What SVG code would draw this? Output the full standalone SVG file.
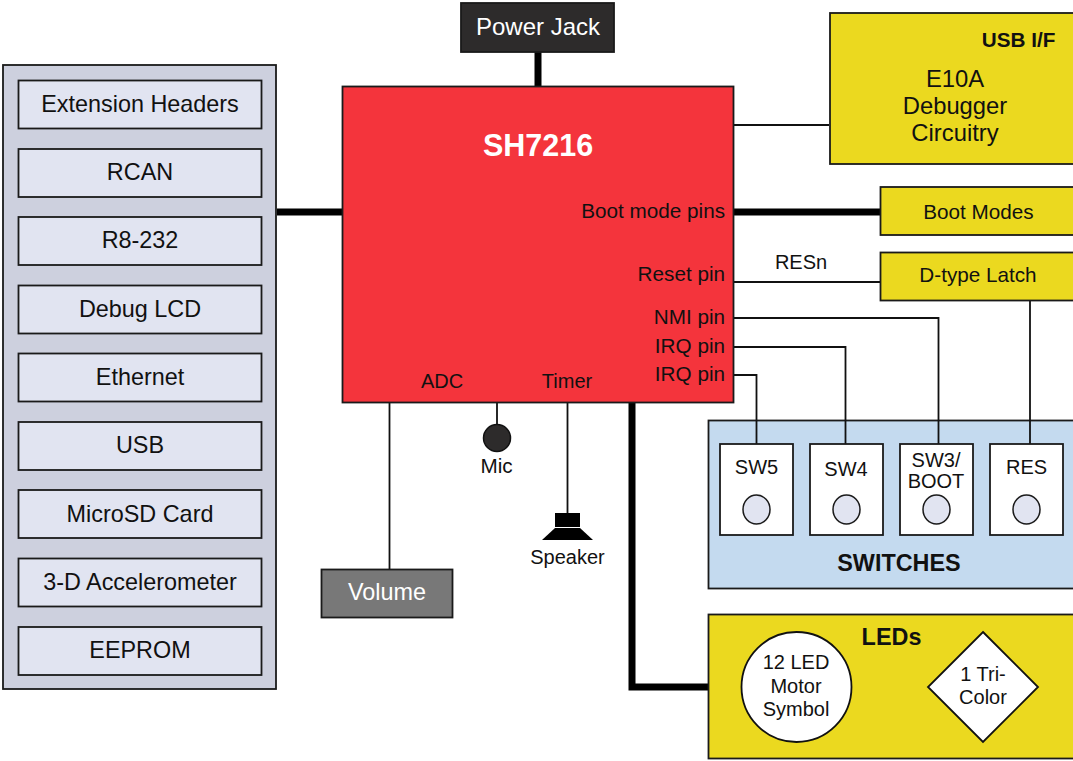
<svg xmlns="http://www.w3.org/2000/svg" width="1073" height="761" viewBox="0 0 1073 761">
<style>
text{font-family:"Liberation Sans",Arial,sans-serif;font-size:23.400px;text-anchor:middle;fill:#111}
.b{font-weight:bold}
.s{font-size:20.700px}
.n{font-size:20px}
.e{text-anchor:end}
.box{stroke:#1a1a1a;stroke-width:1.800}
.inner{fill:#e1e4f1}
.yel{fill:#ebd91f}
.sw{fill:#fff}
.btn{fill:#e1e4f1;stroke:#1a1a1a;stroke-width:1.500}
.thin{fill:none;stroke:#111;stroke-width:1.800}
.thick{fill:none;stroke:#000;stroke-width:7}
.w{fill:#fff}
</style>
<rect width="1073" height="761" fill="#fff"/>
<rect id="switches-panel" class="box" x="708.500" y="420.500" width="372" height="168" fill="#c4daef"/>
<g id="connectors">
<path class="thick" d="M538 52V86"/>
<path class="thick" d="M277 212H342"/>
<path class="thick" d="M734 212H880"/>
<path class="thick" d="M632 402V687H708"/>
<path class="thin" d="M734 125H829"/>
<path class="thin" d="M734 282H880"/>
<path class="thin" d="M734 318H938.500V444"/>
<path class="thin" d="M734 347H845.500V444"/>
<path class="thin" d="M734 375H756.500V444"/>
<path class="thin" d="M1030 300V444"/>
<path class="thin" d="M389.500 402V569"/>
<path class="thin" d="M497 402V425"/>
<path class="thin" d="M567.500 402V513"/>
</g>
<g id="peripherals">
<rect class="box" x="3" y="65" width="273" height="624" fill="#cdd0de"/>
</g>
<g id="extension-headers"><rect class="box inner" x="18.500" y="80.500" width="243" height="48"/><text x="140" y="112">Extension Headers</text></g>
<g id="rcan"><rect class="box inner" x="18.500" y="149" width="243" height="48"/><text x="140" y="180">RCAN</text></g>
<g id="r8-232"><rect class="box inner" x="18.500" y="217" width="243" height="48"/><text x="140" y="248">R8-232</text></g>
<g id="debug-lcd"><rect class="box inner" x="18.500" y="285.500" width="243" height="48"/><text x="140" y="317">Debug LCD</text></g>
<g id="ethernet"><rect class="box inner" x="18.500" y="353.500" width="243" height="48"/><text x="140" y="385">Ethernet</text></g>
<g id="usb"><rect class="box inner" x="18.500" y="422" width="243" height="48"/><text x="140" y="453">USB</text></g>
<g id="microsd"><rect class="box inner" x="18.500" y="490" width="243" height="48"/><text x="140" y="522">MicroSD Card</text></g>
<g id="accelerometer"><rect class="box inner" x="18.500" y="558.500" width="243" height="48"/><text x="140" y="590">3-D Accelerometer</text></g>
<g id="eeprom"><rect class="box inner" x="18.500" y="627" width="243" height="48"/><text x="140" y="658">EEPROM</text></g>
<g id="power-jack"><rect class="box" x="461" y="3" width="153" height="49" fill="#2d2b2b"/><text class="w" x="538" y="35" style="font-size:24px">Power Jack</text></g>
<g id="sh7216"><rect class="box" x="342.500" y="86.500" width="391" height="316" fill="#f4343c"/>
<text class="b w" x="538" y="156" style="font-size:30.500px">SH7216</text>
<text class="s e" x="725" y="218">Boot mode pins</text>
<text class="s e" x="725" y="281">Reset pin</text>
<text class="s e" x="725" y="324">NMI pin</text>
<text class="s e" x="725" y="353">IRQ pin</text>
<text class="s e" x="725" y="381">IRQ pin</text>
<text class="n" x="442" y="388">ADC</text>
<text class="n" x="567" y="388">Timer</text></g>
<g id="usb-if"><rect class="box yel" x="830" y="13" width="250" height="151"/>
<text class="b s" x="1018.500" y="47">USB I/F</text>
<text x="955" y="87" style="font-size:23.800px">E10A</text><text x="955" y="114" style="font-size:23.800px">Debugger</text><text x="955" y="141" style="font-size:23.800px">Circuitry</text></g>
<g id="boot-modes"><rect class="box yel" x="880.500" y="187" width="200" height="48"/><text class="s" x="978.500" y="219">Boot Modes</text></g>
<g id="latch"><rect class="box yel" x="880.500" y="252.500" width="200" height="48"/><text class="s" x="978" y="282">D-type Latch</text></g>
<text class="n" x="801" y="269">RESn</text>
<g id="mic"><circle cx="497" cy="438" r="13.500" fill="#2d2b2b" stroke="#111" stroke-width="1.500"/><text class="s" x="496.500" y="473">Mic</text></g>
<g id="speaker"><rect x="555" y="513" width="25" height="14" fill="#000"/><path d="M542 540L555 528H580L593 540Z" fill="#000"/><text class="n" x="567.500" y="564">Speaker</text></g>
<g id="volume"><rect class="box" x="321.500" y="569.500" width="131" height="48" fill="#787878"/><text class="w" x="387" y="600">Volume</text></g>
<g id="switches"><text class="b" x="899" y="570.500">SWITCHES</text></g>
<g id="sw5"><rect class="box sw" x="720" y="444" width="73" height="91"/><text class="n" x="756.500" y="474">SW5</text><ellipse class="btn" cx="756.500" cy="509.500" rx="13.500" ry="14.500"/></g>
<g id="sw4"><rect class="box sw" x="810" y="444" width="73" height="91"/><text class="n" x="846" y="476">SW4</text><ellipse class="btn" cx="846.500" cy="509.500" rx="13.500" ry="14.500"/></g>
<g id="sw3"><rect class="box sw" x="900" y="444" width="73" height="91"/><text class="n" x="936" y="467">SW3/</text><text class="n" x="936" y="488">BOOT</text><ellipse class="btn" cx="936.500" cy="509.500" rx="13.500" ry="14.500"/></g>
<g id="res"><rect class="box sw" x="990" y="444" width="73" height="91"/><text class="n" x="1026.500" y="474">RES</text><ellipse class="btn" cx="1026.500" cy="509.500" rx="13.500" ry="14.500"/></g>
<g id="leds"><rect class="box yel" x="708.500" y="614.500" width="372" height="144"/>
<text class="b" x="891.500" y="645">LEDs</text>
<circle cx="796.500" cy="687" r="55" fill="#fff" stroke="#111" stroke-width="1.800"/>
<text class="n" x="796" y="669">12 LED</text><text class="n" x="796" y="693">Motor</text><text class="n" x="796" y="716">Symbol</text>
<path d="M983 632L1038 687L983 742L928 687Z" fill="#fff" stroke="#111" stroke-width="1.800"/>
<text class="n" x="983" y="681">1 Tri-</text><text class="n" x="983" y="704">Color</text></g>
</svg>
